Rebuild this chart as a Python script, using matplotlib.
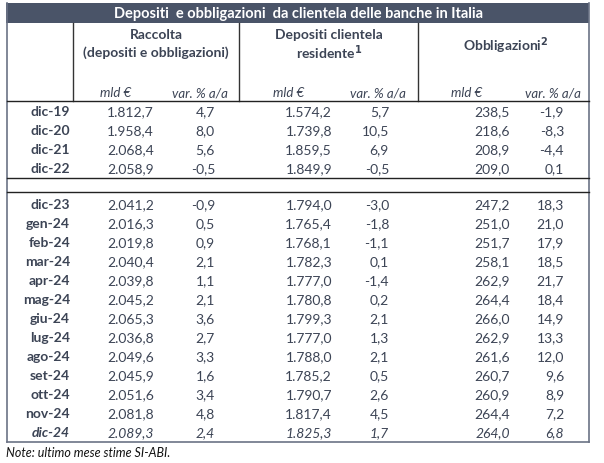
import matplotlib
matplotlib.use("Agg")
import matplotlib.pyplot as plt

# dati: depositi e obbligazioni da clientela (mld €, var. % a/a)
mesi = ["dic-19", "dic-20", "dic-21", "dic-22",
        "dic-23", "gen-24", "feb-24", "mar-24", "apr-24", "mag-24", "giu-24",
        "lug-24", "ago-24", "set-24", "ott-24", "nov-24", "dic-24"]
raccolta = [1812.7, 1958.4, 2068.4, 2058.9,
            2041.2, 2016.3, 2019.8, 2040.4, 2039.8, 2045.2, 2065.3,
            2036.8, 2049.6, 2045.9, 2051.6, 2081.8, 2089.3]
raccolta_var = [4.7, 8.0, 5.6, -0.5,
                -0.9, 0.5, 0.9, 2.1, 1.1, 2.1, 3.6,
                2.7, 3.3, 1.6, 3.4, 4.8, 2.4]
depositi = [1574.2, 1739.8, 1859.5, 1849.9,
            1794.0, 1765.4, 1768.1, 1782.3, 1777.0, 1780.8, 1799.3,
            1777.0, 1788.0, 1785.2, 1790.7, 1817.4, 1825.3]
depositi_var = [5.7, 10.5, 6.9, -0.5,
                -3.0, -1.8, -1.1, 0.1, -1.4, 0.2, 2.1,
                1.3, 2.1, 0.5, 2.6, 4.5, 1.7]
obbligazioni = [238.5, 218.6, 208.9, 209.0,
                247.2, 251.0, 251.7, 258.1, 262.9, 264.4, 266.0,
                262.9, 261.6, 260.7, 260.9, 264.4, 264.0]
obbligazioni_var = [-1.9, -8.3, -4.4, 0.1,
                    18.3, 21.0, 17.9, 18.5, 21.7, 18.4, 14.9,
                    13.3, 12.0, 9.6, 8.9, 7.2, 6.8]

titolo = "Depositi  e obbligazioni  da clientela delle banche in Italia"
nota = "Note: ultimo mese stime SI-ABI."


def fmt(v):
    s = f"{v:,.1f}"
    return s.replace(",", "X").replace(".", ",").replace("X", ".")


plt.rcParams['font.family'] = ['Lato', 'DejaVu Sans']
txt = "#3c4455"
dark = "#4a5468"
edge = "#6b7385"

fig = plt.figure(figsize=(6.04, 4.64), dpi=100)
ax = fig.add_axes([0, 0, 1, 1])
ax.set_xlim(0, 604)
ax.set_ylim(464, 0)
ax.axis("off")

# title bar
ax.fill_between([6, 589], 4, 23.5, color=dark, lw=0)
ax.text(298, 14, titolo, color="white", fontsize=10.5, fontweight="bold",
        ha="center", va="center")

# borders
ax.plot([7, 7], [4, 443], color=edge, lw=1.2)
ax.plot([588.5, 588.5], [4, 443], color=edge, lw=1.2)
ax.plot([7, 588.5], [443, 443], color=edge, lw=1.2)
for x in [73, 239, 418]:
    ax.plot([x, x], [23.5, 101.5], color="#333", lw=1)
ax.plot([7, 588.5], [101.5, 101.5], color="#222", lw=1)
ax.plot([7, 588.5], [179.3, 179.3], color="#222", lw=1)
ax.plot([7, 588.5], [193.3, 193.3], color="#222", lw=1)

# headers
hk = dict(color=txt, fontsize=10, fontweight="bold", ha="center", va="center")
ax.text(156, 35, "Raccolta", **hk)
ax.text(156, 53, "(depositi e obbligazioni)", **hk)
ax.text(329, 35, "Depositi clientela", **hk)
ax.text(329, 53, "residente$^{\\mathbf{1}}$", **hk)
ax.text(506, 46, "Obbligazioni$^{\\mathbf{2}}$", **hk)
uk = dict(color=txt, fontsize=9.5, style="italic", ha="center", va="center")
for xm, xv in [(116, 200), (289, 378), (467, 553)]:
    ax.text(xm, 93, "mld €", **uk)
    ax.text(xv, 93, "var. % a/a", **uk)

# rows
ys = [112 + 19 * i for i in range(4)] + [205 + 19 * i for i in range(13)]
for i, y in enumerate(ys):
    it = "italic" if i == len(ys) - 1 else "normal"
    ax.text(70, y, mesi[i], color=txt, fontsize=10, fontweight="bold",
            style=it, ha="right", va="center")
    ck = dict(color=txt, fontsize=10, style=it, va="center", ha="right")
    ax.text(154, y, fmt(raccolta[i]), **ck)
    ax.text(215, y, fmt(raccolta_var[i]), **ck)
    ax.text(332, y, fmt(depositi[i]), **ck)
    ax.text(389, y, fmt(depositi_var[i]), **ck)
    ax.text(510, y, fmt(obbligazioni[i]), **ck)
    ax.text(564, y, fmt(obbligazioni_var[i]), **ck)

ax.text(6, 453, nota, color="#111", fontsize=9, style="italic",
        ha="left", va="center")

fig.savefig("out.png", dpi=100)
